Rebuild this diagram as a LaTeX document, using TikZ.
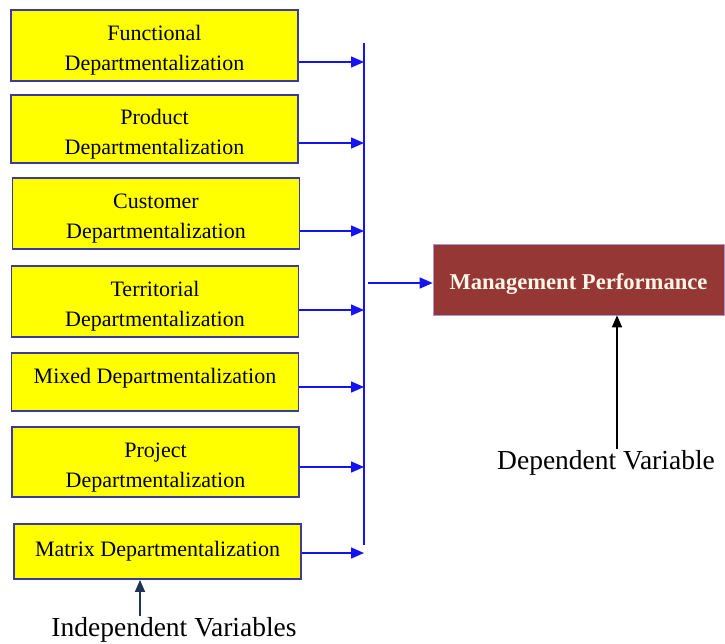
\documentclass[tikz,border=0pt]{standalone}
\usepackage{fontspec}
\setmainfont{Liberation Serif}
\usetikzlibrary{arrows.meta}
\definecolor{deptyellow}{RGB}{255,255,0}
\definecolor{deptedge}{RGB}{58,58,160}
\definecolor{feedblue}{RGB}{20,20,240}
\definecolor{perfred}{RGB}{149,55,53}
\definecolor{perfedge}{RGB}{175,150,200}
\definecolor{perftext}{RGB}{255,246,232}
\definecolor{varnavy}{RGB}{31,52,88}

\begin{document}
\begin{tikzpicture}[x=1pt,y=-1pt,
    deptbox/.style={draw=deptedge,line width=1.8pt,fill=deptyellow,minimum width=287pt,
        align=center,inner sep=0pt,font=\fontsize{22}{30}\selectfont},
    twoline/.style={deptbox,text height=55pt},
    feed/.style={feedblue,line width=1.5pt,-{Triangle[length=13pt,width=11pt]}},
    varlabel/.style={inner sep=1pt,font=\fontsize{27.5}{30}\selectfont},
    pointer/.style={line width=1.5pt,-{Triangle[length=12pt,width=10pt]}}]
    \useasboundingbox (0,0) rectangle (725,643);
    % independent variables
    \node[twoline,minimum height=71pt] (fun)  at (154.5,45.5)  {Functional\\Departmentalization};
    \node[twoline,minimum height=68pt] (prod) at (154.5,129)   {Product\\Departmentalization};
    \node[twoline,minimum height=71pt] (cust) at (156,213.5)   {Customer\\Departmentalization};
    \node[twoline,minimum height=71pt] (terr) at (155,301.5)   {Territorial\\Departmentalization};
    \node[deptbox,minimum height=58pt,text depth=13pt] (mix) at (155,382) {Mixed Departmentalization};
    \node[twoline,minimum height=70pt] (proj) at (155.5,462)   {Project\\Departmentalization};
    \node[deptbox,minimum height=55pt] (matr) at (157.5,551.5) {Matrix Departmentalization};
    % collecting line
    \coordinate (bustop) at (364,43);
    \coordinate (busbot) at (364,545);
    \coordinate (busout) at (368,283);
    \draw[feedblue,line width=1.5pt] (bustop) -- (busbot);
    \foreach \n/\y in {fun/62,prod/143,cust/231,terr/310,mix/387,proj/467,matr/553}
        \draw[feed] (\n.east |- 0,\y) -- (bustop |- 0,\y);
    % dependent variable
    \node[draw=perfedge,line width=0.6pt,fill=perfred,text=perftext,minimum width=291pt,
        minimum height=71pt,text height=24pt,font=\bfseries\fontsize{22.6}{26}\selectfont]
        (mgmt) at (578.5,279.5) {Management Performance};
    \draw[feed] (busout) -- (mgmt.west |- busout);
    % labels
    \node[varlabel] (dep) at (606,463) {Dependent Variable};
    \draw[pointer,black] (dep.north -| 617,0) -- (mgmt.south -| 617,0);
    \node[varlabel] (indep) at (174,629.5) {Independent Variables};
    \draw[pointer,varnavy] (indep.north -| 140,0) -- (matr.south -| 140,0);
\end{tikzpicture}
\end{document}
